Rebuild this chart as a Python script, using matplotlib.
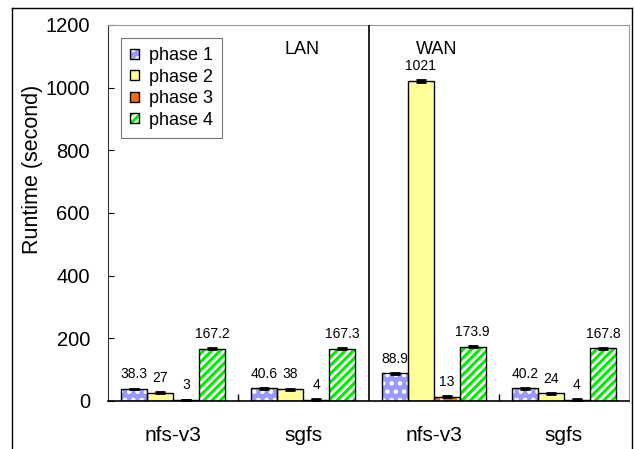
import numpy as np
import matplotlib.pyplot as plt
from matplotlib.lines import Line2D

plt.rcParams['font.family'] = ['Liberation Sans', 'DejaVu Sans']
plt.rcParams['hatch.linewidth'] = 2.0

systems = ['nfs-v3', 'sgfs', 'nfs-v3', 'sgfs']
phases = ['phase 1', 'phase 2', 'phase 3', 'phase 4']
phase1 = [38.3, 40.6, 88.9, 40.2]
phase2 = [27, 38, 1021, 24]
phase3 = [3, 4, 13, 4]
phase4 = [167.2, 167.3, 173.9, 167.8]
errors = [[1.5, 1.5, 1.5, 1.5], [1.5, 1.5, 2.0, 1.5], [1.0, 1.0, 1.5, 1.0], [1.5, 1.5, 1.5, 1.5]]
labels = [['38.3', '40.6', '88.9', '40.2'], ['27', '38', '1021', '24'],
          ['3', '4', '13', '4'], ['167.2', '167.3', '173.9', '167.8']]

colors = ['#9999ff', '#ffff99', '#ff6a00', '#00ee00']
hatches = ['..', None, '+', '////']

fig = plt.figure(figsize=(6.34, 4.49), dpi=100)
ax = fig.add_axes([108 / 634, 48 / 449, 521 / 634, 376 / 449])

x = np.arange(len(systems))
width = 0.2
handles = []
for i, vals in enumerate([phase1, phase2, phase3, phase4]):
    pos = x + (i - 1.5) * width
    # fill with white hatch, then black outline on top
    fill = ax.bar(pos, vals, width, color=colors[i], hatch=hatches[i], edgecolor='white', linewidth=0, zorder=2)
    edge = ax.bar(pos, vals, width, facecolor='none', edgecolor='black', linewidth=1, zorder=3)
    ax.errorbar(pos, vals, yerr=errors[i], fmt='none', ecolor='black', elinewidth=1.5,
                capsize=3.5, capthick=2, zorder=4)
    for p, v, t in zip(pos, vals, labels[i]):
        ax.annotate(t, (p, v), xytext=(0, 5.5), textcoords='offset points',
                    ha='center', va='bottom', fontsize=10)
    handles.append((fill[0], edge[0]))

ax.set_xlim(-0.5, 3.5)
ax.set_ylim(0, 1200)
ax.set_yticks(range(0, 1201, 200))
ax.set_xticks(x)
ax.set_xticklabels(systems, fontsize=15)
ax.set_xticks([0.5, 2.5], minor=True)
ax.tick_params(axis='x', which='major', length=0, pad=18)
ax.tick_params(axis='x', which='minor', direction='in', length=5, width=1)
ax.tick_params(axis='y', direction='in', length=4, labelsize=14.5, pad=13)
ax.set_ylabel('Runtime (second)', fontsize=15.5)
ax.yaxis.set_label_coords(-0.125, 0.617)

ax.axvline(1.5, color='black', linewidth=1.2, zorder=5)
ax.text(0.99, 1123, 'LAN', ha='center', va='center', fontsize=13)
ax.text(2.02, 1123, 'WAN', ha='center', va='center', fontsize=13)

for side in ['top', 'right']:
    ax.spines[side].set_color('#999999')
ax.spines['left'].set_color('#333333')
ax.spines['bottom'].set_linewidth(1.2)

leg = ax.legend(handles, phases, loc='upper left', bbox_to_anchor=(0.025, 0.965), fontsize=13,
                frameon=True, fancybox=False, edgecolor='#555555', handlelength=0.5,
                handleheight=0.5, handletextpad=0.55, labelspacing=0.25, borderpad=0.5,
                borderaxespad=0)
leg.get_frame().set_linewidth(0.8)

# outer frame around the whole figure
for xs, ys in [([12 / 634, 12 / 634], [0, 1 - 8 / 449]),
               ([12 / 634, 632 / 634], [1 - 8 / 449, 1 - 8 / 449]),
               ([632 / 634, 632 / 634], [0, 1 - 8 / 449])]:
    fig.add_artist(Line2D(xs, ys, color='black', linewidth=1, transform=fig.transFigure))

fig.savefig('out.png', dpi=100)
